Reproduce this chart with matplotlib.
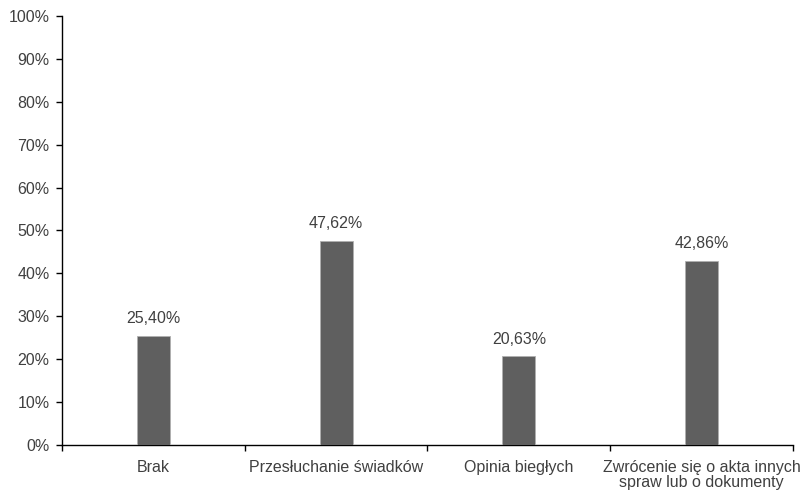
import numpy as np
import matplotlib.pyplot as plt
from matplotlib.ticker import FuncFormatter, FixedLocator

plt.rcParams['font.family'] = ['Liberation Sans', 'DejaVu Sans']

categories = ["Brak", "Przesłuchanie świadków", "Opinia biegłych",
              "Zwrócenie się o akta innych\nspraw lub o dokumenty"]
values = [25.40, 47.62, 20.63, 42.86]
value_labels = ["25,40%", "47,62%", "20,63%", "42,86%"]

text_color = "#404040"
fs = 11.5

fig = plt.figure(figsize=(8.04, 4.91), dpi=100)
ax = fig.add_axes([0.0771, 0.0937, 0.9092, 0.8737])

x = np.arange(len(categories))
ax.bar(x, values, width=0.18, color="#5f5f5f", edgecolor="#b0b0b0", linewidth=0.6, zorder=3)
for xi, v, lab in zip(x, values, value_labels):
    ax.text(xi, v + 2.3, lab, ha="center", va="bottom", fontsize=fs, color=text_color)

ax.set_xlim(-0.5, len(categories) - 0.5)
ax.set_ylim(0, 100)
ax.set_yticks(np.arange(0, 101, 10))
ax.yaxis.set_major_formatter(FuncFormatter(lambda v, p: f"{v:.0f}%"))

ax.set_xticks(x)
ax.set_xticklabels(categories, fontsize=fs, color=text_color, linespacing=1.0)
ax.xaxis.set_minor_locator(FixedLocator(np.arange(-0.5, len(categories), 1.0)))
ax.tick_params(axis="x", which="major", length=0, pad=11)
ax.tick_params(axis="x", which="minor", length=4, direction="out", width=1)
ax.tick_params(axis="y", length=4, direction="out", width=1, labelsize=fs,
               labelcolor=text_color, pad=5)

for s in ["top", "right"]:
    ax.spines[s].set_visible(False)
ax.spines["left"].set_linewidth(1)
ax.spines["bottom"].set_linewidth(1)

fig.savefig("out.png", dpi=100)
